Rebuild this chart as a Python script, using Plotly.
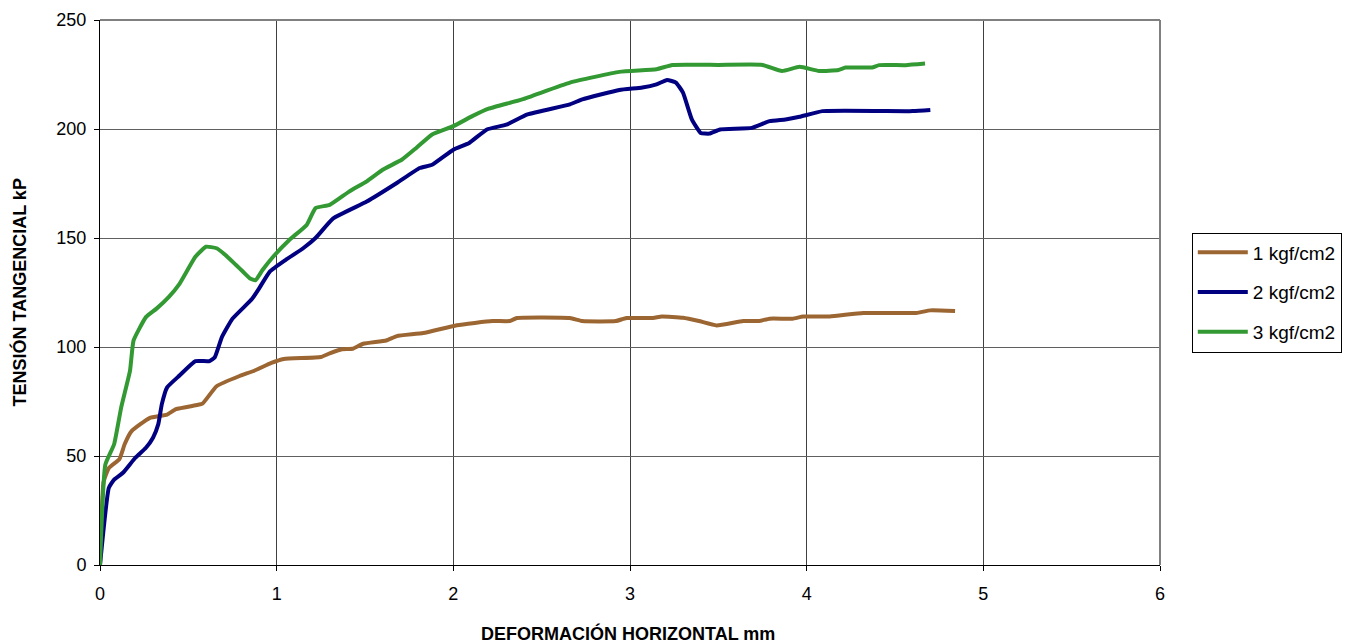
import plotly.graph_objects as go

# Data
x_1 = [0, 0.02, 0.05, 0.11, 0.14, 0.18, 0.28, 0.38, 0.43, 0.55, 0.58, 0.66, 0.79, 0.87, 0.97, 1.04,
       1.25, 1.30, 1.37, 1.43, 1.49, 1.62, 1.68, 1.83, 2.02, 2.22, 2.32, 2.36, 2.66, 2.73, 2.92, 2.98,
       3.13, 3.18, 3.30, 3.39, 3.49, 3.64, 3.73, 3.79, 3.92, 3.98, 4.13, 4.32, 4.62, 4.70, 4.84]
y_1 = [0, 38, 44.5, 48.6, 55.5, 61.5, 67.4, 69, 71.5, 73.4, 74, 82, 86.7, 89, 92.7, 94.5,
       95.4, 97.1, 99, 99.2, 101.5, 103, 105, 106.4, 110, 111.9, 111.9, 113.3, 113.3, 111.9, 111.9, 113.3,
       113.3, 114, 113.4, 111.9, 109.9, 111.9, 111.9, 113, 113, 114, 114, 115.6, 115.6, 116.8, 116.5]

x_2 = [0, 0.05, 0.08, 0.13, 0.20, 0.26, 0.30, 0.33, 0.35, 0.38, 0.45, 0.54, 0.62, 0.65, 0.69,
       0.75, 0.86, 0.90, 0.96, 1.05, 1.15, 1.22, 1.32, 1.51, 1.68, 1.81, 1.88, 2.0, 2.09, 2.19,
       2.30, 2.42, 2.66, 2.73, 2.94, 3.07, 3.15, 3.21, 3.26, 3.30, 3.35, 3.40, 3.45, 3.51, 3.69,
       3.79, 3.88, 3.96, 4.09, 4.60, 4.70]
y_2 = [0, 35.4, 39.2, 42.3, 49.2, 53.8, 58.4, 64.6, 73.8, 81.5, 86.9, 93.5, 93.5, 95.3, 104.5,
       113, 122, 126.8, 134.5, 139.9, 145.3, 150, 159, 166.7, 175.2, 182.1, 183.6, 190.5, 193.6, 199.8,
       202, 206.7, 211.3, 213.6, 217.9, 219, 220.5, 222.5, 221.3, 216.7, 204.4, 198.2, 197.9, 199.8, 200.5,
       203.6, 204.4, 205.6, 208.2, 208.2, 208.7]

x_3 = [0, 0.03, 0.08, 0.12, 0.17, 0.19, 0.26, 0.32, 0.39, 0.45, 0.54, 0.60, 0.66, 0.71, 0.77,
       0.81, 0.85, 0.88, 0.92, 0.98, 1.07, 1.17, 1.22, 1.30, 1.41, 1.51, 1.60, 1.71, 1.79, 1.88,
       2.0, 2.11, 2.20, 2.39, 2.66, 2.94, 3.15, 3.24, 3.50, 3.75, 3.86, 3.96, 4.07, 4.18, 4.22,
       4.37, 4.41, 4.56, 4.67]
y_3 = [0, 46, 55.4, 72.3, 89.2, 103, 113.7, 117.6, 123, 129, 141.4, 146, 145.3, 142.2, 137.6,
       134.5, 131.4, 130.6, 135.3, 141.4, 149, 156, 163.7, 165.2, 171.3, 176, 181.3, 186, 191.3, 197.5,
       201.3, 206, 209.3, 213.6, 221.3, 226.2, 227.4, 229.4, 229.4, 229.4, 226.6, 228.5, 226.6, 227.1, 228.2,
       228.2, 229.3, 229.3, 230]

series_names = ["1 kgf/cm2", "2 kgf/cm2", "3 kgf/cm2"]
colors = ["#9C6633", "#000080", "#339933"]

x_ticks = [0, 1, 2, 3, 4, 5, 6]
y_ticks = [0, 50, 100, 150, 200, 250]

x_title = "DEFORMACIÓN HORIZONTAL mm"
y_title = "TENSIÓN TANGENCIAL kP"

FONT = "Arial, 'Liberation Sans', sans-serif"

fig = go.Figure()
for i, (xs, ys) in enumerate([(x_1, y_1), (x_2, y_2), (x_3, y_3)]):
    fig.add_trace(go.Scatter(
        x=xs, y=ys, mode="lines", name=series_names[i], legendgroup=f"g{i}",
        line=dict(color=colors[i], width=4, shape="spline", smoothing=0.4),
    ))

# the page body adds an 8px offset, so the figure is slightly smaller than the window
fig.update_layout(
    width=1363, height=636,
    margin=dict(l=92, r=211, t=12, b=79),
    paper_bgcolor="white", plot_bgcolor="white",
    font=dict(family=FONT, color="black", size=18),
    showlegend=True,
    legend=dict(
        x=1.030, y=0.500, xanchor="left", yanchor="middle",
        bordercolor="black", borderwidth=1, bgcolor="white",
        font=dict(family=FONT, size=19, color="black"),
        tracegroupgap=12, itemwidth=50,
    ),
    xaxis=dict(
        range=[0, 6], tickvals=x_ticks, ticktext=[str(v) for v in x_ticks],
        showgrid=True, gridcolor="#404040", gridwidth=1,
        showline=True, linecolor="black", linewidth=1,
        ticks="outside", ticklen=5, tickcolor="black",
        zeroline=False, automargin=False, ticklabelstandoff=7,
    ),
    yaxis=dict(
        range=[0, 250], tickvals=y_ticks, ticktext=[str(v) for v in y_ticks],
        showgrid=True, gridcolor="#606060", gridwidth=1,
        showline=True, linecolor="black", linewidth=1,
        ticks="outside", ticklen=5, tickcolor="black",
        zeroline=False, automargin=False, ticklabelstandoff=4,
    ),
)

fig.add_annotation(text=f"<b>{x_title}</b>", xref="paper", yref="paper", x=0.498, y=-0.125,
                   xanchor="center", yanchor="middle", showarrow=False,
                   font=dict(size=18, family=FONT, color="black"))
fig.add_annotation(text=f"<b>{y_title}</b>", xref="paper", yref="paper", x=-0.0755, y=0.5,
                   xanchor="center", yanchor="middle", showarrow=False, textangle=-90,
                   font=dict(size=18, family=FONT, color="black"))

# plot-area border (top/right in grey)
fig.add_shape(type="line", xref="paper", yref="paper", x0=0, x1=1, y0=1, y1=1,
              line=dict(color="#808080", width=2))
fig.add_shape(type="line", xref="paper", yref="paper", x0=1, x1=1, y0=0, y1=1,
              line=dict(color="#808080", width=2))

fig.write_html("out.html")
